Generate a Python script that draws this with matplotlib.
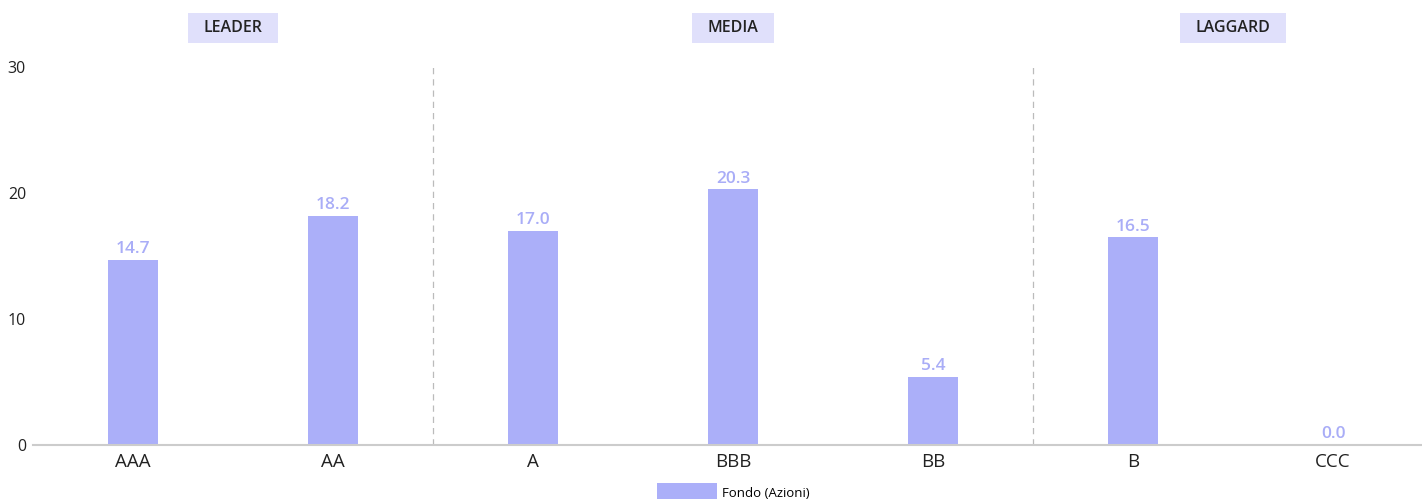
import matplotlib.pyplot as plt
from matplotlib.patches import Patch, Rectangle

categories = ['AAA', 'AA', 'A', 'BBB', 'BB', 'B', 'CCC']
values = [14.7, 18.2, 17.0, 20.3, 5.4, 16.5, 0.0]
groups = ['LEADER', 'MEDIA', 'LAGGARD']
group_centers = [0.5, 3, 5.5]
group_breaks = [1.5, 4.5]
series_name = 'Fondo (Azioni)'

bar_color = '#abaff9'
label_color = '#a9adf7'

plt.rcParams['font.family'] = ['Open Sans', 'DejaVu Sans']

W, H = 1422, 499
fig = plt.figure(figsize=(W / 100, H / 100), dpi=100)
ax = fig.add_axes([33 / W, 1 - 445 / H, 1 - 33 / W, (445 - 67) / H])

x = list(range(len(categories)))
ax.bar(x, values, width=0.25, color=bar_color, zorder=2)
for xi, v in zip(x, values):
    ax.text(xi, v + 0.2, f'{v:.1f}', ha='center', va='bottom', color=label_color,
            fontsize=12.5, fontweight='semibold', fontstretch='normal')

ax.set_xlim(-0.5, 6.445)
ax.set_ylim(0, 30)
ax.set_yticks([0, 10, 20, 30])
ax.set_xticks(x)
ax.set_xticklabels(categories, fontsize=13.5, color='#222222')
ax.tick_params(axis='x', length=0, pad=6)
ax.tick_params(axis='y', length=0, labelsize=11.5, labelcolor='#222222', pad=5)

for s in ['top', 'right', 'left']:
    ax.spines[s].set_visible(False)
ax.spines['bottom'].set_color('#cccccc')
ax.spines['bottom'].set_linewidth(1.5)

for b in group_breaks:
    ax.axvline(b, color='#bbbbbb', linestyle=(0, (5, 4)), linewidth=0.9, zorder=1)

# group header boxes: measure text, then draw a box with fixed padding (in pixels)
fig.canvas.draw()
renderer = fig.canvas.get_renderer()
for g, c in zip(groups, group_centers):
    t = ax.text(c, 1.103, g, transform=ax.get_xaxis_transform(), ha='center', va='center',
                fontsize=11.5, fontweight='semibold', fontstretch='normal',
                color='#222222', zorder=5)
    bb = t.get_window_extent(renderer)
    cx = (bb.x0 + bb.x1) / 2
    bw = bb.width + 32
    bh = 30
    cy = H - 28
    ax.add_patch(Rectangle(((cx - bw / 2) / W, (cy - bh / 2) / H), bw / W, bh / H,
                           transform=fig.transFigure, facecolor='#e0e0fb',
                           edgecolor='none', zorder=4, clip_on=False))

handle = Patch(facecolor=bar_color, edgecolor='none')
fig.legend([handle], [series_name], loc='lower center', bbox_to_anchor=(733 / W, -0.03),
           frameon=False, fontsize=9.5, handlelength=4.6, handleheight=1.9,
           handletextpad=0.35)

fig.savefig('out.png', dpi=100)
